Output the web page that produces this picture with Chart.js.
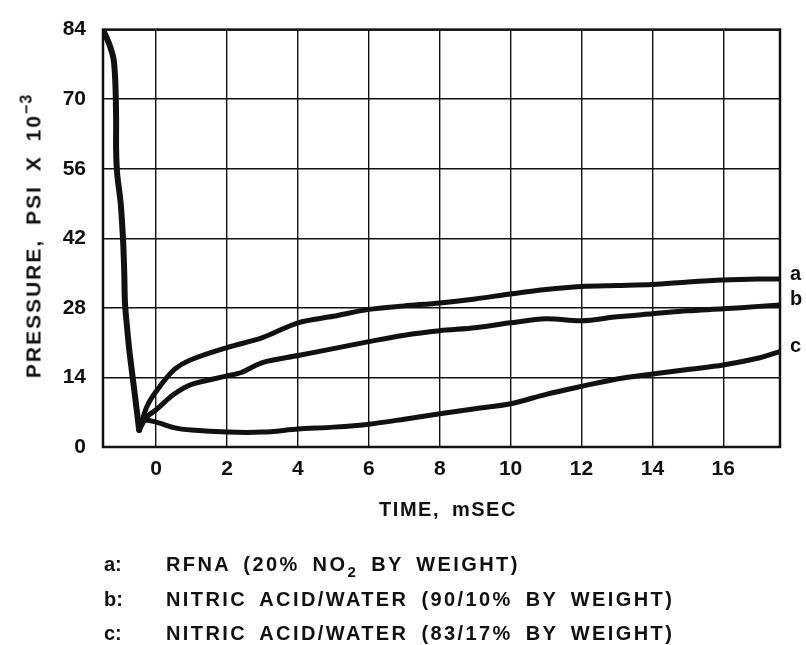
<!DOCTYPE html>
<html>
<head>
<meta charset="utf-8">
<script src="https://cdn.jsdelivr.net/npm/chart.js@4.4.1/dist/chart.umd.min.js"></script>
<style>
  body { margin: 0; background: #fff; }
  #wrap { position: relative; width: 806px; height: 645px; font-family: "Liberation Sans", Arial, sans-serif; font-weight: bold; color: #111; }
  #wrap canvas { position: absolute; left: 0; top: 0; }
  .txt { position: absolute; white-space: nowrap; font-size: 20px; line-height: 1; transform: translateY(-50%); }
  .note { letter-spacing: 2.4px; word-spacing: 5px; }
  sub { font-size: 15px; vertical-align: -6px; line-height: 0; }
  sup { font-size: 16px; vertical-align: 9px; line-height: 0; letter-spacing: 1px; }
  #ytitle { position: absolute; left: 33px; top: 236px; white-space: nowrap; font-size: 21px; line-height: 1;
            transform: translate(-50%, -50%) rotate(-90deg); letter-spacing: 2px; word-spacing: 6px; }
</style>
</head>
<body>
<div id="wrap">
  <canvas id="pressureChart" width="806" height="645"></canvas>
  <div id="ytitle">PRESSURE, PSI X 10<sup>−3</sup></div>
  <div class="txt" style="left:448px; top:509px; transform:translate(-50%,-50%); letter-spacing:1.5px; word-spacing:5px;">TIME, mSEC</div>
  <div class="txt" style="left:104px; top:564px;">a:</div>
  <div class="txt note" style="left:166px; top:564px;">RFNA (20% NO<sub>2</sub> BY WEIGHT)</div>
  <div class="txt" style="left:104px; top:599px;">b:</div>
  <div class="txt note" style="left:166px; top:599px;">NITRIC ACID/WATER (90/10% BY WEIGHT)</div>
  <div class="txt" style="left:104px; top:633px;">c:</div>
  <div class="txt note" style="left:166px; top:633px;">NITRIC ACID/WATER (83/17% BY WEIGHT)</div>
</div>
<script>
// tick values
const xTicks = [0, 2, 4, 6, 8, 10, 12, 14, 16];
const yTicks = [0, 14, 28, 42, 56, 70, 84];

// common pressure drop before the curves split
const dropTime = [-1.5, -1.32, -1.2, -1.15, -1.13, -1.13, -1.1, -1.0, -0.93, -0.9, -0.88, -0.82, -0.75, -0.61, -0.48];
const dropPressure = [84, 81, 78, 73, 66, 60, 55, 49, 41, 35, 29, 24, 19, 11, 3.4];

// a: RFNA
const timeA = [-0.48, -0.27, 0, 0.5, 1, 2, 3, 4, 5, 6, 7, 8, 9, 10, 11, 12, 13, 14, 15, 16, 17, 17.6];
const pressureA = [3.4, 8, 11.2, 15.5, 17.6, 20, 22, 25, 26.3, 27.7, 28.4, 29, 29.8, 30.8, 31.7, 32.3, 32.5, 32.7, 33.2, 33.6, 33.8, 33.8];

// b: nitric acid/water 90/10
const timeB = [-0.48, -0.27, 0, 0.5, 1, 2, 2.4, 3, 4, 5, 6, 7, 8, 9, 10, 11, 12, 13, 14, 15, 16, 17, 17.6];
const pressureB = [3.4, 6, 7.5, 10.6, 12.6, 14.3, 15, 17, 18.4, 19.8, 21.2, 22.5, 23.4, 24, 25, 25.8, 25.4, 26.2, 26.8, 27.4, 27.8, 28.3, 28.6];

// c: nitric acid/water 83/17
const timeC = [-0.48, -0.35, 0, 0.5, 1, 2, 3, 4, 5, 6, 7, 8, 9, 10, 11, 12, 13, 14, 15, 16, 17, 17.6];
const pressureC = [3.4, 5.3, 5.0, 3.9, 3.4, 3.0, 3.0, 3.6, 4.0, 4.6, 5.6, 6.7, 7.7, 8.7, 10.6, 12.2, 13.7, 14.7, 15.6, 16.5, 17.9, 19.2];

const endLabels = ['a', 'b', 'c'];

const toPoints = (xs, ys) => xs.map((x, i) => ({ x: x, y: ys[i] }));
const ink = '#111';

// draws the box round the plot and the a/b/c labels at the line ends
const framePlugin = {
    id: 'frame',
    afterDatasetsDraw(chart) {
        const { ctx, chartArea: area, scales } = chart;
        ctx.save();
        ctx.strokeStyle = ink;
        ctx.lineWidth = 2.5;
        ctx.strokeRect(area.left, area.top, area.right - area.left, area.bottom - area.top);

        ctx.fillStyle = ink;
        ctx.font = 'bold 20px "Liberation Sans", Arial, sans-serif';
        ctx.textBaseline = 'middle';
        chart.data.datasets.forEach(ds => {
            if (!ds.endLabel) return;
            const last = ds.data[ds.data.length - 1];
            ctx.fillText(ds.endLabel, area.right + 10, scales.y.getPixelForValue(last.y) - 5);
        });
        ctx.restore();
    }
};

const lineStyle = {
    showLine: true,
    pointRadius: 0,
    borderColor: ink,
    borderWidth: 5,
    tension: 0.3,
    borderCapStyle: 'round',
    borderJoinStyle: 'round'
};

new Chart(document.getElementById('pressureChart').getContext('2d'), {
    type: 'scatter',
    data: {
        datasets: [
            { ...lineStyle, data: toPoints(dropTime, dropPressure), borderWidth: 6 },
            { ...lineStyle, data: toPoints(timeA, pressureA), endLabel: endLabels[0] },
            { ...lineStyle, data: toPoints(timeB, pressureB), endLabel: endLabels[1] },
            { ...lineStyle, data: toPoints(timeC, pressureC), endLabel: endLabels[2] }
        ]
    },
    options: {
        responsive: false,
        animation: false,
        devicePixelRatio: 1,
        layout: { padding: { top: 23, right: 26, left: 0, bottom: 0 } },
        plugins: {
            legend: { display: false },
            tooltip: { enabled: false }
        },
        scales: {
            x: {
                type: 'linear',
                min: -1.5,
                max: 17.6,
                afterBuildTicks: scale => { scale.ticks = xTicks.map(v => ({ value: v })); },
                afterFit: scale => { scale.height = 198; },
                grid: { color: ink, lineWidth: 1.4, drawTicks: false },
                border: { display: false },
                ticks: {
                    padding: 10,
                    color: ink,
                    font: { family: '"Liberation Sans", Arial, sans-serif', size: 21, weight: 'bold' }
                }
            },
            y: {
                min: 0,
                max: 84,
                afterBuildTicks: scale => { scale.ticks = yTicks.map(v => ({ value: v })); },
                afterFit: scale => { scale.width = 103; },
                grid: { color: ink, lineWidth: 1.4, drawTicks: false },
                border: { display: false },
                ticks: {
                    padding: 17,
                    color: ink,
                    font: { family: '"Liberation Sans", Arial, sans-serif', size: 21, weight: 'bold' }
                }
            }
        }
    },
    plugins: [framePlugin]
});
</script>
</body>
</html>
